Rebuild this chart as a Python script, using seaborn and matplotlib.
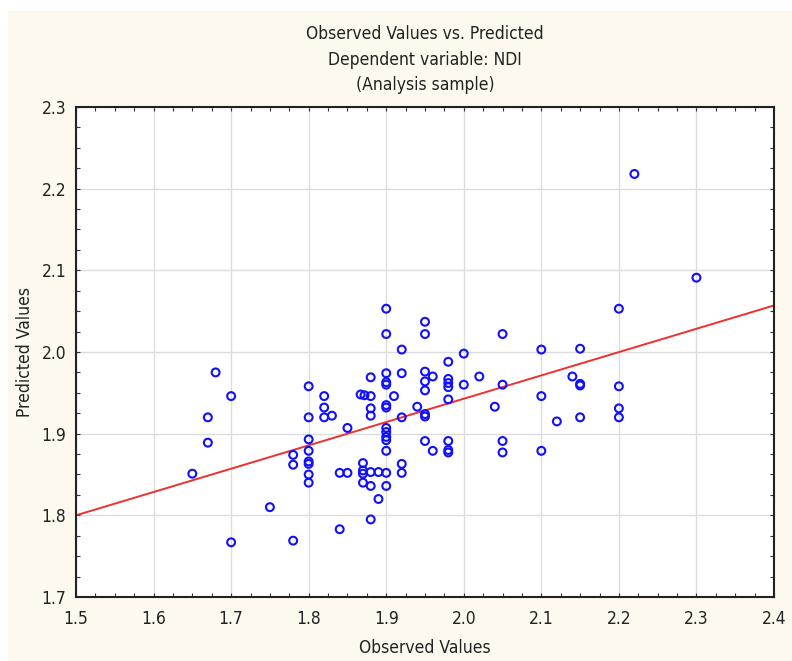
import matplotlib
matplotlib.use("Agg")
import matplotlib.pyplot as plt
from matplotlib.patches import Rectangle
from matplotlib.ticker import MultipleLocator, FormatStrFormatter
import seaborn as sns
import pandas as pd

# Observed NDI scores and the model's predicted values
observed = [
    1.65,
    1.67, 1.67,
    1.68,
    1.70, 1.70,
    1.75,
    1.78, 1.78, 1.78,
    1.80, 1.80, 1.80, 1.80, 1.80, 1.80, 1.80, 1.80,
    1.82, 1.82, 1.82,
    1.83,
    1.84, 1.84,
    1.85, 1.85,
    1.867, 1.872, 1.87, 1.87, 1.87, 1.87,
    1.88, 1.88, 1.88, 1.88, 1.88, 1.88, 1.88,
    1.89, 1.89,
    1.90, 1.90, 1.90, 1.90, 1.90, 1.90, 1.90, 1.90, 1.90, 1.90, 1.90, 1.90, 1.90, 1.90,
    1.91,
    1.92, 1.92, 1.92, 1.92, 1.92,
    1.94,
    1.95, 1.95, 1.95, 1.95, 1.95, 1.95, 1.95, 1.95,
    1.96, 1.96,
    1.98, 1.98, 1.98, 1.98, 1.98, 1.98, 1.98, 1.98,
    2.00, 2.00,
    2.02,
    2.04,
    2.05, 2.05, 2.05, 2.05,
    2.10, 2.10, 2.10,
    2.12,
    2.14,
    2.15, 2.15, 2.15, 2.15,
    2.20, 2.20, 2.20, 2.20,
    2.22,
    2.30,
]
predicted = [
    1.851,
    1.920, 1.889,
    1.975,
    1.946, 1.767,
    1.810,
    1.874, 1.862, 1.769,
    1.958, 1.920, 1.893, 1.879, 1.866, 1.863, 1.850, 1.840,
    1.946, 1.932, 1.920,
    1.922,
    1.852, 1.783,
    1.907, 1.852,
    1.948, 1.947, 1.864, 1.855, 1.851, 1.840,
    1.969, 1.946, 1.931, 1.922, 1.853, 1.836, 1.795,
    1.853, 1.820,
    2.053, 2.022, 1.974, 1.963, 1.960, 1.935, 1.932, 1.907, 1.902, 1.896, 1.892, 1.879, 1.852, 1.836,
    1.946,
    2.003, 1.974, 1.920, 1.863, 1.852,
    1.933,
    2.037, 2.022, 1.976, 1.964, 1.953, 1.924, 1.921, 1.891,
    1.970, 1.879,
    1.988, 1.967, 1.962, 1.957, 1.942, 1.891, 1.880, 1.877,
    1.998, 1.960,
    1.970,
    1.933,
    2.022, 1.960, 1.891, 1.877,
    2.003, 1.946, 1.879,
    1.915,
    1.970,
    2.004, 1.961, 1.959, 1.920,
    2.053, 1.958, 1.931, 1.920,
    2.218,
    2.091,
]

# Fitted regression line endpoints
fit_x = [1.5, 2.4]
fit_y = [1.800, 2.057]

x_ticks = [1.5, 1.6, 1.7, 1.8, 1.9, 2.0, 2.1, 2.2, 2.3, 2.4]
y_ticks = [1.7, 1.8, 1.9, 2.0, 2.1, 2.2, 2.3]

points = pd.DataFrame({"Observed": observed, "Predicted": predicted})
line = pd.DataFrame({"x": fit_x, "y": fit_y})

sns.set_theme(style="white")
plt.rcParams["font.family"] = ["DejaVu Sans", "Liberation Sans"]
plt.rcParams["font.stretch"] = "condensed"

TXT = "#222222"
FS = 12.5

fig = plt.figure(figsize=(7.92, 6.61), dpi=100, facecolor="white")
fig.patches.append(Rectangle((8 / 792, 0), 1 - 8 / 792, 1 - 11 / 661,
                             transform=fig.transFigure, facecolor="#fdf9ee",
                             edgecolor="none", zorder=-10))
ax = fig.add_axes([76 / 792, 1 - 597 / 661, 698 / 792, 490 / 661])
ax.set_facecolor("white")

sns.lineplot(data=line, x="x", y="y", ax=ax, color="#f03030", linewidth=1.4, zorder=2)
sns.scatterplot(data=points, x="Observed", y="Predicted", ax=ax, marker="o",
                s=32, facecolor="none", edgecolor="#1010ff", linewidth=1.5, zorder=3)

ax.set_xlim(1.5, 2.4)
ax.set_ylim(1.7, 2.3)
ax.set_xticks(x_ticks)
ax.set_yticks(y_ticks)
ax.xaxis.set_major_formatter(FormatStrFormatter("%.1f"))
ax.yaxis.set_major_formatter(FormatStrFormatter("%.1f"))
ax.xaxis.set_minor_locator(MultipleLocator(0.025))
ax.yaxis.set_minor_locator(MultipleLocator(0.025))
ax.grid(True, which="major", color="#dcdcdc", linewidth=1.0, zorder=0)
ax.set_axisbelow(True)

ax.tick_params(which="both", direction="in", top=True, right=True, bottom=True, left=True,
               length=3, width=0.8, color="#333333", labelsize=FS, labelcolor=TXT)
ax.tick_params(axis="x", pad=9)
ax.tick_params(axis="y", pad=7)
for s in ax.spines.values():
    s.set_color(TXT)
    s.set_linewidth(1.5)

ax.set_xlabel("Observed Values", fontsize=FS, color=TXT, labelpad=8)
ax.set_ylabel("Predicted Values", fontsize=FS, color=TXT, labelpad=5)
ax.set_title("Observed Values vs. Predicted\nDependent variable: NDI\n(Analysis sample)",
             fontsize=FS, color=TXT, linespacing=1.53, pad=12)

fig.savefig("out.png", dpi=100, facecolor=fig.get_facecolor())
